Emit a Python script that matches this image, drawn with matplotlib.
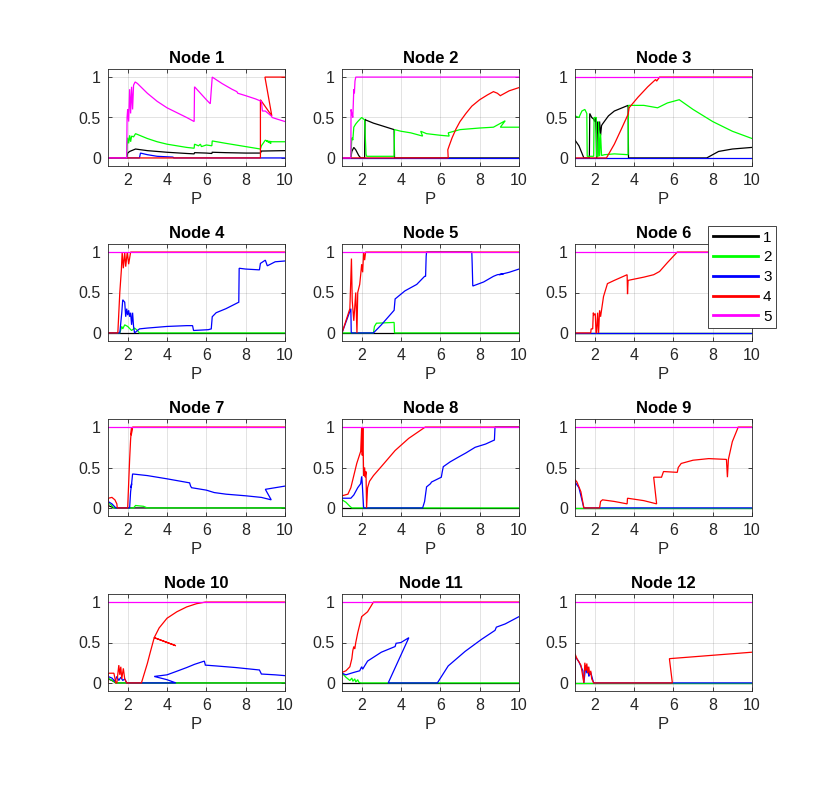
import matplotlib
matplotlib.use('Agg')
import matplotlib.pyplot as plt
from matplotlib.lines import Line2D

plt.rcParams['font.family'] = ['Liberation Sans', 'DejaVu Sans']

# ---- data (x = P, y = value) ----
titles = ['Node %d' % i for i in range(1, 13)]
series_labels = ['1', '2', '3', '4', '5']
series_colors = [(0, 0, 0), (0, 1, 0), (0, 0, 1), (1, 0, 0), (1, 0, 1)]
x_ticks = [2, 4, 6, 8, 10]
y_ticks = [0, 0.5, 1]
y_ticklabels = ['0', '0.5', '1']

# Node 1
n1_k_x = [1, 1.95, 2.0, 2.1, 2.2, 2.4, 3.0, 4.0, 5.0, 5.38, 5.4, 6.0, 6.28, 6.3, 7.0, 8.0, 8.75, 8.8, 10]
n1_k_y = [0, 0, 0.06, 0.08, 0.09, 0.11, 0.09, 0.07, 0.055, 0.05, 0.065, 0.06, 0.055, 0.07, 0.065, 0.06, 0.06, 0.085, 0.09]
n1_g_x = [1, 1.95, 1.97, 2.0, 2.05, 2.1, 2.15, 2.2, 2.3, 2.4, 3.0, 3.5, 4.0, 4.5, 5.0, 5.38, 5.4, 5.6, 5.7, 5.75, 6.0, 6.28, 6.3, 7.0, 7.5, 8.0, 8.75, 8.8, 9.0, 9.3, 9.05, 9.35, 10]
n1_g_y = [0, 0, 0.15, 0.25, 0.18, 0.28, 0.2, 0.27, 0.26, 0.3, 0.24, 0.2, 0.17, 0.15, 0.13, 0.12, 0.17, 0.15, 0.17, 0.14, 0.16, 0.15, 0.21, 0.18, 0.16, 0.14, 0.11, 0.15, 0.22, 0.18, 0.21, 0.2, 0.2]
n1_b_x = [1, 2.6, 2.65, 3.0, 3.5, 4.3, 4.35, 10]
n1_b_y = [0, 0, 0.06, 0.04, 0.02, 0.01, 0, 0]
n1_r_x = [1, 8.75, 8.75, 9.33, 8.98, 10]
n1_r_y = [0, 0, 0.72, 0.52, 1.0, 1.0]
n1_m_x = [1, 1.95, 1.97, 2.0, 2.05, 2.1, 2.15, 2.2, 2.25, 2.3, 2.38, 2.5, 3.0, 3.5, 4.0, 4.5, 5.0, 5.38, 5.4, 5.7, 6.0, 6.2, 6.3, 6.8, 7.3, 7.55, 7.6, 8.0, 8.5, 8.8, 8.85, 9.0, 9.3, 9.35, 9.6, 10]
n1_m_y = [0, 0, 0.5, 0.6, 0.45, 0.85, 0.55, 0.88, 0.6, 0.9, 0.94, 0.92, 0.8, 0.7, 0.62, 0.56, 0.5, 0.45, 0.88, 0.8, 0.72, 0.67, 1.0, 0.92, 0.85, 0.82, 0.8, 0.77, 0.73, 0.7, 0.58, 0.58, 0.52, 0.5, 0.48, 0.45]

# Node 2
n2_k_x = [1, 1.45, 1.5, 1.6, 1.7, 1.85, 1.95, 2.15, 2.17, 2.2, 2.6, 3.0, 3.65, 3.67, 10]
n2_k_y = [0, 0, 0.08, 0.13, 0.1, 0.03, 0, 0, 0.48, 0.47, 0.43, 0.4, 0.35, 0, 0]
n2_g_x = [1, 1.45, 1.5, 1.55, 1.6, 1.7, 1.8, 2.0, 2.15, 2.22, 2.25, 3.0, 3.65, 3.67, 4.0, 4.5, 5.1, 5.0, 5.3, 6.0, 6.45, 6.4, 7.0, 8.0, 8.7, 9.3, 9.05, 10]
n2_g_y = [0, 0, 0.25, 0.22, 0.38, 0.42, 0.45, 0.5, 0.47, 0.05, 0.02, 0.02, 0.02, 0.35, 0.33, 0.31, 0.27, 0.33, 0.3, 0.28, 0.27, 0.31, 0.35, 0.37, 0.38, 0.46, 0.38, 0.38]
n2_b_x = [1, 10]
n2_b_y = [0, 0]
n2_r_x = [1, 6.4, 6.38, 6.45, 6.6, 6.8, 7.0, 7.3, 7.6, 8.0, 8.4, 8.7, 8.9, 9.05, 9.2, 9.5, 10]
n2_r_y = [0, 0, 0.1, 0.15, 0.25, 0.36, 0.45, 0.55, 0.64, 0.72, 0.78, 0.82, 0.8, 0.77, 0.79, 0.83, 0.87]
n2_m_x = [1, 1.45, 1.46, 1.5, 1.55, 1.6, 1.63, 1.66, 1.7, 10]
n2_m_y = [0, 0, 0.6, 0.55, 0.5, 0.85, 0.8, 0.95, 1.0, 1.0]

# Node 3
n3_k_x = [1, 1.2, 1.35, 1.45, 1.73, 1.75, 1.85, 1.95, 2.0, 2.05, 2.08, 2.1, 2.15, 2.2, 2.25, 2.3, 2.35, 2.4, 2.7, 3.0, 3.4, 3.7, 3.72, 7.7, 8.0, 8.3, 9.0, 9.5, 10]
n3_k_y = [0.22, 0.15, 0.06, 0, 0, 0.55, 0.5, 0.48, 0.45, 0.5, 0.3, 0, 0.45, 0.3, 0.45, 0.28, 0.4, 0.42, 0.52, 0.58, 0.62, 0.65, 0, 0, 0.04, 0.08, 0.11, 0.12, 0.13]
n3_g_x = [1, 1.2, 1.35, 1.5, 1.6, 1.62, 1.95, 1.97, 2.08, 2.1, 2.18, 2.2, 2.25, 2.3, 2.35, 2.5, 3.0, 3.7, 3.72, 4.5, 5.2, 5.7, 6.3, 7.0, 8.0, 9.0, 10]
n3_g_y = [0.52, 0.5, 0.58, 0.6, 0.55, 0.02, 0.02, 0.5, 0.5, 0.02, 0.02, 0.45, 0.02, 0.3, 0.03, 0.04, 0.05, 0.04, 0.65, 0.65, 0.62, 0.68, 0.72, 0.6, 0.45, 0.33, 0.24]
n3_b_x = [1, 10]
n3_b_y = [0, 0]
n3_r_x = [1, 2.6, 3.0, 3.4, 3.7, 3.75, 4.2, 4.7, 5.1, 5.15, 5.3, 10]
n3_r_y = [0, 0, 0.17, 0.38, 0.54, 0.62, 0.75, 0.88, 0.97, 0.95, 1.0, 1.0]
n3_m_x = [1, 10]
n3_m_y = [1, 1]

# Node 4
n4_k_x = [1, 10]
n4_k_y = [0, 0]
n4_g_x = [1, 1.6, 1.7, 1.75, 1.85, 2.0, 2.2, 2.35, 2.5, 2.6, 10]
n4_g_y = [0, 0, 0.08, 0.05, 0.1, 0.08, 0.03, 0.06, 0.03, 0, 0]
n4_b_x = [1, 1.6, 1.7, 1.75, 1.85, 1.9, 1.95, 2.0, 2.05, 2.1, 2.15, 2.2, 2.25, 2.3, 2.35, 2.45, 2.6, 3.0, 4.0, 5.0, 5.3, 5.35, 6.1, 6.25, 6.3, 6.5, 7.0, 7.65, 7.67, 8.0, 8.7, 8.75, 9.0, 9.1, 9.5, 10]
n4_b_y = [0, 0, 0.25, 0.41, 0.38, 0.2, 0.3, 0.22, 0.28, 0.2, 0.25, 0.1, 0.25, 0.08, 0, 0.02, 0.05, 0.06, 0.08, 0.09, 0.09, 0.03, 0.04, 0.05, 0.2, 0.25, 0.3, 0.38, 0.8, 0.79, 0.78, 0.86, 0.9, 0.83, 0.88, 0.89]
n4_r_x = [1, 1.5, 1.6, 1.68, 1.72, 1.78, 1.85, 1.9, 1.98, 2.05, 2.15, 10]
n4_r_y = [0, 0, 0.5, 0.78, 1.0, 0.8, 1.0, 0.82, 1.0, 0.85, 1.0, 1.0]
n4_m_x = [1, 10]
n4_m_y = [1, 1]

# Node 5
n5_k_x = [1, 10]
n5_k_y = [0, 0]
n5_g_x = [1, 2.6, 2.65, 2.75, 3.65, 3.67, 10]
n5_g_y = [0, 0, 0.08, 0.12, 0.13, 0, 0]
n5_b_x = [1, 1.45, 1.47, 2.6, 3.0, 3.65, 3.7, 4.2, 4.8, 5.2, 5.25, 5.28, 5.3, 7.6, 7.62, 7.65, 8.2, 8.7, 8.9, 9.2, 9.0, 9.5, 10]
n5_b_y = [0, 0.3, 0, 0, 0.1, 0.28, 0.42, 0.52, 0.6, 0.7, 0.7, 0.95, 1.0, 1.0, 0.85, 0.58, 0.63, 0.7, 0.72, 0.73, 0.72, 0.75, 0.79]
n5_r_x = [1, 1.2, 1.4, 1.48, 1.52, 1.6, 1.7, 1.76, 1.8, 1.85, 1.9, 1.95, 2.0, 2.05, 2.1, 2.15, 2.2, 10]
n5_r_y = [0, 0.15, 0.3, 0.92, 0.4, 0.15, 0.5, 0.0, 0.5, 0.55, 0.6, 0.72, 0.85, 0.75, 1.0, 0.9, 1.0, 1.0]
n5_m_x = [1, 10]
n5_m_y = [1, 1]

# Node 6
n6_k_x = [1, 10]
n6_k_y = [0, 0]
n6_g_x = [1, 10]
n6_g_y = [0, 0]
n6_b_x = [1, 10]
n6_b_y = [0, 0]
n6_r_x = [1, 1.8, 1.82, 1.9, 1.93, 1.97, 2.03, 2.07, 2.1, 2.15, 2.2, 2.25, 2.3, 2.45, 2.65, 3.0, 3.65, 3.67, 3.7, 4.5, 5.0, 5.3, 5.7, 6.2, 10]
n6_r_y = [0, 0, 0.05, 0.05, 0.25, 0.22, 0.24, 0, 0.0, 0.25, 0.0, 0.28, 0.2, 0.45, 0.61, 0.65, 0.72, 0.48, 0.65, 0.69, 0.72, 0.76, 0.87, 1.0, 1.0]
n6_m_x = [1, 10]
n6_m_y = [1, 1]

# Node 7
n7_k_x = [1, 1.3, 10]
n7_k_y = [0.03, 0, 0]
n7_g_x = [1, 1.15, 1.3, 2.3, 2.4, 2.8, 3.0, 10]
n7_g_y = [0.06, 0.04, 0, 0, 0.03, 0.02, 0, 0]
n7_b_x = [1, 1.2, 1.4, 2.1, 2.15, 2.2, 2.18, 2.25, 3.0, 4.0, 5.15, 5.2, 5.25, 6.0, 6.4, 7.0, 8.0, 8.8, 9.3, 9.0, 9.5, 10]
n7_b_y = [0.08, 0.05, 0, 0, 0.2, 0.3, 0.25, 0.42, 0.4, 0.36, 0.31, 0.27, 0.25, 0.22, 0.19, 0.17, 0.15, 0.13, 0.1, 0.23, 0.25, 0.27]
n7_r_x = [1, 1.02, 1.2, 1.35, 1.45, 1.47, 2.0, 2.05, 2.1, 2.15, 2.2, 2.18, 2.22, 2.25, 10]
n7_r_y = [0, 0.12, 0.13, 0.1, 0.05, 0, 0, 0.3, 0.6, 0.85, 1.0, 0.9, 0.95, 1.0, 1.0]
n7_m_x = [1, 10]
n7_m_y = [1, 1]

# Node 8
n8_k_x = [1, 1.4, 10]
n8_k_y = [0, 0, 0]
n8_g_x = [1, 1.2, 1.4, 1.5, 10]
n8_g_y = [0.1, 0.07, 0.02, 0, 0]
n8_b_x = [1, 1.45, 1.6, 1.8, 1.95, 2.0, 2.03, 2.1, 5.1, 5.2, 5.3, 5.5, 5.55, 6.05, 6.1, 6.15, 6.5, 6.93, 7.3, 7.77, 8.3, 8.75, 8.78, 10]
n8_b_y = [0.12, 0.12, 0.16, 0.25, 0.3, 0.39, 0.3, 0, 0, 0.08, 0.26, 0.3, 0.32, 0.38, 0.45, 0.51, 0.57, 0.63, 0.68, 0.75, 0.79, 0.84, 1.0, 1.0]
n8_r_x = [1, 1.3, 1.45, 1.6, 1.75, 1.95, 2.0, 2.03, 2.06, 2.1, 2.15, 2.18, 2.22, 2.25, 2.3, 2.4, 2.6, 3.03, 3.7, 4.39, 5.23, 10]
n8_r_y = [0.15, 0.17, 0.25, 0.4, 0.55, 0.7, 1.0, 0.65, 1.0, 0.4, 0.5, 0.38, 0.45, 0, 0.25, 0.33, 0.4, 0.52, 0.71, 0.86, 1.0, 1.0]
n8_m_x = [1, 10]
n8_m_y = [1, 1]

# Node 9
n9_k_x = [1, 10]
n9_k_y = [0, 0]
n9_g_x = [1, 10]
n9_g_y = [0, 0]
n9_b_x = [1, 1.0, 1.2, 1.45, 10]
n9_b_y = [0, 0.32, 0.25, 0, 0]
n9_r_x = [1, 1.0, 1.1, 1.3, 1.45, 2.25, 2.3, 2.4, 3.0, 3.65, 3.67, 4.5, 5.15, 5.0, 5.4, 5.5, 6.2, 6.25, 6.4, 7.0, 7.8, 8.7, 8.75, 8.8, 9.0, 9.3, 10]
n9_r_y = [0, 0.35, 0.32, 0.2, 0, 0, 0.08, 0.1, 0.08, 0.05, 0.12, 0.09, 0.05, 0.38, 0.38, 0.45, 0.44, 0.5, 0.55, 0.59, 0.61, 0.6, 0.38, 0.6, 0.82, 1.0, 1.0]
n9_m_x = [1, 10]
n9_m_y = [1, 1]

# Node 10
n10_k_x = [1, 1.2, 1.4, 10]
n10_k_y = [0.05, 0.03, 0, 0]
n10_g_x = [1, 1.3, 1.4, 10]
n10_g_y = [0.06, 0.02, 0, 0]
n10_b_x = [1, 1.2, 1.35, 1.45, 1.55, 1.65, 1.75, 1.85, 1.95, 4.45, 4.0, 3.35, 4.0, 4.45, 5.0, 5.4, 5.9, 5.95, 6.5, 7.5, 8.7, 8.8, 9.5, 10]
n10_b_y = [0.08, 0.06, 0.02, 0.08, 0.03, 0.07, 0.03, 0.05, 0, 0, 0.04, 0.08, 0.1, 0.14, 0.19, 0.23, 0.27, 0.22, 0.21, 0.19, 0.16, 0.11, 0.1, 0.09]
n10_r_x = [1, 1.02, 1.3, 1.4, 1.45, 1.55, 1.6, 1.65, 1.7, 1.78, 1.85, 1.95, 2.7, 2.85, 3.0, 3.15, 3.35, 4.45, 3.35, 3.6, 4.0, 4.5, 5.0, 5.5, 5.95, 10]
n10_r_y = [0, 0.12, 0.12, 0, 0, 0.22, 0.1, 0.2, 0.05, 0.18, 0.05, 0, 0, 0.12, 0.24, 0.38, 0.56, 0.46, 0.56, 0.68, 0.8, 0.88, 0.94, 0.98, 1.0, 1.0]
n10_m_x = [1, 10]
n10_m_y = [1, 1]

# Node 11
n11_k_x = [1, 10]
n11_k_y = [0, 0]
n11_g_x = [1, 1.2, 1.4, 1.5, 1.55, 1.65, 1.7, 1.8, 1.85, 1.95, 10]
n11_g_y = [0.12, 0.07, 0.03, 0.06, 0.02, 0.05, 0.01, 0.04, 0.01, 0, 0]
n11_b_x = [1, 1.2, 1.6, 1.9, 2.0, 2.05, 2.3, 3.0, 3.7, 3.75, 4.0, 4.4, 3.35, 5.85, 6.4, 7.26, 8.1, 8.78, 8.85, 9.3, 10]
n11_b_y = [0.12, 0.1, 0.13, 0.15, 0.2, 0.17, 0.27, 0.38, 0.45, 0.49, 0.5, 0.56, 0, 0, 0.21, 0.39, 0.54, 0.65, 0.69, 0.73, 0.82]
n11_r_x = [1, 1.2, 1.4, 1.5, 1.55, 1.6, 1.65, 1.7, 1.8, 1.9, 2.0, 2.3, 2.6, 10]
n11_r_y = [0.13, 0.15, 0.2, 0.3, 0.4, 0.45, 0.42, 0.5, 0.62, 0.72, 0.82, 0.88, 1.0, 1.0]
n11_m_x = [1, 10]
n11_m_y = [1, 1]

# Node 12
n12_k_x = [1, 10]
n12_k_y = [0, 0]
n12_g_x = [1, 10]
n12_g_y = [0, 0]
n12_b_x = [1, 1.0, 1.2, 1.4, 1.45, 1.55, 1.6, 1.65, 1.7, 1.8, 1.9, 1.95, 10]
n12_b_y = [0, 0.33, 0.26, 0.15, 0, 0.22, 0.12, 0.2, 0.08, 0.13, 0.04, 0, 0]
n12_r_x = [1, 1.0, 1.1, 1.3, 1.45, 1.5, 1.55, 1.6, 1.65, 1.7, 1.75, 1.8, 1.85, 1.95, 5.95, 5.8, 10]
n12_r_y = [0, 0.36, 0.3, 0.22, 0, 0.25, 0.15, 0.24, 0.12, 0.2, 0.1, 0.15, 0.05, 0, 0, 0.3, 0.38]
n12_m_x = [1, 10]
n12_m_y = [1, 1]

node_data = [
	[(n1_k_x, n1_k_y), (n1_g_x, n1_g_y), (n1_b_x, n1_b_y), (n1_r_x, n1_r_y), (n1_m_x, n1_m_y)],
	[(n2_k_x, n2_k_y), (n2_g_x, n2_g_y), (n2_b_x, n2_b_y), (n2_r_x, n2_r_y), (n2_m_x, n2_m_y)],
	[(n3_k_x, n3_k_y), (n3_g_x, n3_g_y), (n3_b_x, n3_b_y), (n3_r_x, n3_r_y), (n3_m_x, n3_m_y)],
	[(n4_k_x, n4_k_y), (n4_g_x, n4_g_y), (n4_b_x, n4_b_y), (n4_r_x, n4_r_y), (n4_m_x, n4_m_y)],
	[(n5_k_x, n5_k_y), (n5_g_x, n5_g_y), (n5_b_x, n5_b_y), (n5_r_x, n5_r_y), (n5_m_x, n5_m_y)],
	[(n6_k_x, n6_k_y), (n6_g_x, n6_g_y), (n6_b_x, n6_b_y), (n6_r_x, n6_r_y), (n6_m_x, n6_m_y)],
	[(n7_k_x, n7_k_y), (n7_g_x, n7_g_y), (n7_b_x, n7_b_y), (n7_r_x, n7_r_y), (n7_m_x, n7_m_y)],
	[(n8_k_x, n8_k_y), (n8_g_x, n8_g_y), (n8_b_x, n8_b_y), (n8_r_x, n8_r_y), (n8_m_x, n8_m_y)],
	[(n9_k_x, n9_k_y), (n9_g_x, n9_g_y), (n9_b_x, n9_b_y), (n9_r_x, n9_r_y), (n9_m_x, n9_m_y)],
	[(n10_k_x, n10_k_y), (n10_g_x, n10_g_y), (n10_b_x, n10_b_y), (n10_r_x, n10_r_y), (n10_m_x, n10_m_y)],
	[(n11_k_x, n11_k_y), (n11_g_x, n11_g_y), (n11_b_x, n11_b_y), (n11_r_x, n11_r_y), (n11_m_x, n11_m_y)],
	[(n12_k_x, n12_k_y), (n12_g_x, n12_g_y), (n12_b_x, n12_b_y), (n12_r_x, n12_r_y), (n12_m_x, n12_m_y)],
]

# ---- layout (matlab-like subplot grid) ----
W, H = 830, 800
fig = plt.figure(figsize=(W / 100, H / 100), dpi=100)
col_left = [108, 342, 575]
row_top = [69, 244, 419, 594]
ax_w, ax_h = 177, 97
axis_gray = (0.15, 0.15, 0.15)

for i, series in enumerate(node_data):
	r, c = divmod(i, 3)
	ax = fig.add_axes([col_left[c] / W, 1 - (row_top[r] + ax_h) / H, ax_w / W, ax_h / H])
	for (xs, ys), col in zip(series, series_colors):
		ax.plot(xs, ys, color=col, lw=0.9, solid_joinstyle='miter')
	ax.set_xlim(1, 10)
	ax.set_ylim(-0.1, 1.1)
	ax.set_xticks(x_ticks)
	ax.set_yticks(y_ticks)
	ax.set_yticklabels(y_ticklabels)
	ax.grid(True, color=(0.15, 0.15, 0.15), alpha=0.15, lw=0.6)
	ax.set_axisbelow(True)
	ax.tick_params(direction='in', length=3, width=0.6, colors=axis_gray, labelsize=11.5,
		top=True, right=True, pad=5)
	for sp in ax.spines.values():
		sp.set_color(axis_gray)
		sp.set_linewidth(0.6)
	ax.set_title(titles[i], fontsize=12, fontweight='bold', pad=4)
	ax.set_xlabel('P', fontsize=12, color=axis_gray, labelpad=3)

handles = [Line2D([], [], color=c, lw=2) for c in series_colors]
leg = fig.legend(handles, series_labels, loc='upper left', bbox_to_anchor=(708 / W, 1 - 226 / H),
	fontsize=11, frameon=True, fancybox=False, framealpha=1, edgecolor=axis_gray,
	handlelength=3.0, handletextpad=0.3, labelspacing=0.38, borderpad=0.3, borderaxespad=0)
leg.get_frame().set_linewidth(0.6)

fig.savefig('out.png', dpi=100)
